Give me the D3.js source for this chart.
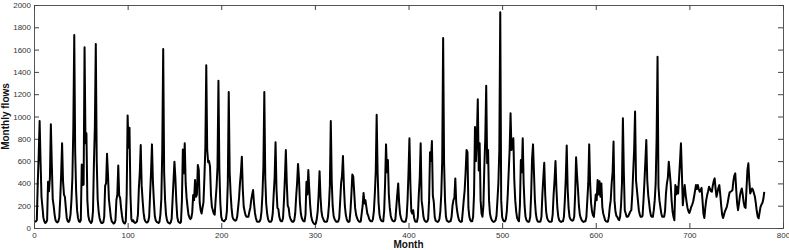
<!DOCTYPE html>
<html>
<head>
<meta charset="utf-8">
<script src="https://cdn.jsdelivr.net/npm/d3@7"></script>
<style>
  body { margin: 0; background: #fff; }
  svg { display: block; font-family: "Liberation Sans", Arial, sans-serif; }
  .axis text { font-size: 8px; fill: #333; }
  .axis line { stroke: #444; }
  .title { font-size: 10px; font-weight: bold; fill: #111; }
</style>
</head>
<body>
<svg id="chart" width="789" height="250"></svg>
<script>
// monthly flows, one row per year (12 months each)
var flowRows = [
  [55, 60, 70, 400, 650, 960, 600, 280, 190, 95, 60, 45],
  [50, 70, 415, 330, 450, 930, 580, 260, 200, 120, 70, 55],
  [50, 60, 95, 260, 480, 760, 420, 300, 280, 180, 90, 60],
  [55, 70, 120, 250, 450, 900, 1730, 680, 330, 160, 90, 60],
  [55, 70, 570, 385, 390, 1620, 760, 850, 250, 110, 70, 55],
  [45, 60, 150, 580, 900, 1650, 600, 260, 150, 90, 60, 45],
  [45, 50, 100, 380, 400, 665, 480, 260, 180, 100, 60, 50],
  [40, 45, 70, 250, 300, 560, 290, 270, 180, 110, 60, 45],
  [40, 60, 300, 1010, 720, 900, 300, 80, 60, 70, 50, 45],
  [50, 60, 120, 355, 500, 745, 380, 250, 140, 80, 60, 50],
  [50, 60, 100, 300, 500, 750, 420, 250, 110, 70, 55, 50],
  [45, 55, 120, 260, 700, 1605, 500, 250, 120, 70, 50, 45],
  [40, 50, 80, 250, 420, 595, 450, 240, 100, 60, 50, 45],
  [55, 250, 705, 490, 760, 400, 270, 190, 120, 95, 80, 90],
  [140, 295, 250, 430, 280, 300, 565, 520, 225, 160, 130, 180],
  [230, 450, 715, 1460, 700, 590, 600, 550, 300, 190, 160, 130],
  [120, 250, 370, 550, 1320, 520, 225, 100, 70, 65, 60, 70],
  [80, 150, 400, 1220, 500, 310, 180, 100, 80, 70, 65, 70],
  [100, 180, 270, 400, 500, 640, 350, 190, 150, 115, 100, 100],
  [100, 145, 180, 250, 300, 340, 220, 135, 90, 60, 55, 55],
  [60, 80, 150, 300, 550, 1220, 450, 220, 130, 80, 60, 55],
  [55, 70, 130, 300, 450, 770, 350, 180, 170, 100, 70, 60],
  [60, 90, 250, 450, 700, 400, 200, 180, 110, 80, 65, 55],
  [55, 70, 130, 280, 400, 575, 450, 230, 130, 90, 70, 60],
  [60, 120, 415, 300, 520, 350, 200, 110, 70, 50, 40, 35],
  [40, 80, 150, 300, 510, 280, 150, 100, 80, 60, 55, 55],
  [60, 100, 200, 380, 960, 420, 200, 110, 80, 65, 55, 55],
  [60, 90, 235, 400, 470, 645, 380, 200, 120, 80, 60, 55],
  [60, 150, 300, 480, 460, 320, 180, 120, 90, 70, 60, 55],
  [60, 130, 200, 315, 220, 250, 190, 130, 110, 80, 65, 60],
  [60, 80, 150, 300, 500, 1015, 500, 230, 120, 80, 65, 60],
  [60, 150, 400, 750, 500, 610, 300, 180, 110, 80, 65, 60],
  [60, 80, 190, 300, 400, 225, 125, 90, 65, 60, 55, 55],
  [60, 100, 250, 500, 805, 400, 150, 130, 160, 90, 60, 55],
  [55, 100, 300, 450, 760, 250, 180, 100, 70, 60, 55, 60],
  [80, 250, 680, 600, 780, 290, 235, 100, 65, 60, 55, 60],
  [80, 150, 300, 600, 1705, 590, 250, 100, 65, 60, 55, 60],
  [60, 100, 200, 250, 270, 445, 220, 150, 100, 70, 60, 55],
  [60, 150, 250, 340, 500, 700, 680, 180, 100, 70, 60, 60],
  [100, 300, 905, 600, 800, 1155, 515, 760, 250, 130, 100, 200],
  [550, 800, 1275, 580, 700, 250, 130, 90, 70, 60, 55, 60],
  [70, 110, 250, 400, 700, 1935, 250, 100, 70, 60, 60, 80],
  [150, 300, 500, 700, 1030, 700, 790, 805, 430, 250, 150, 90],
  [70, 60, 200, 610, 500, 805, 400, 200, 100, 70, 60, 55],
  [60, 100, 300, 625, 750, 500, 250, 130, 80, 60, 55, 55],
  [60, 100, 300, 450, 585, 300, 150, 90, 70, 60, 55, 55],
  [60, 120, 300, 430, 600, 350, 180, 100, 70, 60, 55, 60],
  [60, 100, 250, 450, 740, 350, 180, 100, 80, 70, 65, 70],
  [100, 300, 635, 475, 350, 200, 120, 90, 70, 60, 55, 60],
  [60, 100, 250, 400, 750, 400, 225, 150, 115, 100, 200, 300],
  [250, 430, 300, 420, 280, 400, 190, 130, 100, 70, 60, 57],
  [57, 100, 190, 250, 400, 500, 775, 250, 150, 110, 100, 80],
  [70, 100, 200, 400, 985, 500, 160, 130, 100, 100, 110, 130],
  [150, 160, 300, 505, 700, 1045, 430, 340, 250, 160, 120, 100],
  [100, 110, 250, 415, 600, 790, 430, 300, 225, 150, 110, 100],
  [100, 160, 250, 400, 800, 1535, 370, 250, 190, 130, 100, 100],
  [100, 150, 310, 400, 450, 595, 500, 400, 250, 150, 100, 70],
  [385, 300, 370, 310, 450, 600, 760, 490, 205, 300, 385, 300],
  [235, 180, 150, 135, 160, 190, 210, 235, 280, 330, 385, 350],
  [385, 350, 325, 340, 360, 250, 130, 90, 180, 250, 295, 330],
  [370, 350, 330, 325, 380, 420, 445, 350, 280, 320, 360, 385],
  [300, 200, 120, 90, 120, 150, 170, 190, 230, 280, 320, 325],
  [330, 340, 420, 470, 490, 350, 220, 160, 220, 290, 330, 355],
  [300, 230, 190, 180, 350, 520, 580, 420, 310, 330, 355, 340],
  [310, 280, 220, 150, 100, 87, 140, 190, 210, 225, 260, 325]
];

var xTicks = [0, 100, 200, 300, 400, 500, 600, 700, 800];
var yTicks = [0, 200, 400, 600, 800, 1000, 1200, 1400, 1600, 1800, 2000];

var flows = [];
flowRows.forEach(function(row) {
  row.forEach(function(v) { flows.push(v); });
});
var series = flows.map(function(v, i) { return { month: i + 1, value: v }; });

var width = 789, height = 250;
var margin = { left: 34, right: 6, top: 5, bottom: 22 };
var innerW = width - margin.left - margin.right,
    innerH = height - margin.top - margin.bottom;

var svg = d3.select("#chart");
var g = svg.append("g").attr("transform", `translate(${margin.left},${margin.top})`);

var x = d3.scaleLinear().domain([0, 800]).range([0, innerW]);
var y = d3.scaleLinear().domain([0, 2000]).range([innerH, 0]);

// box
g.append("rect")
  .attr("width", innerW).attr("height", innerH)
  .attr("fill", "none").attr("stroke", "#555").attr("stroke-width", 1)
  .attr("shape-rendering", "crispEdges");

// ticks point inwards on all four sides (matlab style)
g.append("g").attr("class", "axis")
  .attr("transform", `translate(0,${innerH})`)
  .call(d3.axisBottom(x).tickValues(xTicks).tickSize(-5).tickPadding(4).tickFormat(d3.format("d")))
  .call(function(s) { s.select(".domain").remove(); });

g.append("g").attr("class", "axis")
  .call(d3.axisTop(x).tickValues(xTicks).tickSize(-5).tickFormat(""))
  .call(function(s) { s.select(".domain").remove(); });

g.append("g").attr("class", "axis")
  .call(d3.axisLeft(y).tickValues(yTicks).tickSize(-5).tickPadding(3).tickFormat(d3.format("d")))
  .call(function(s) { s.select(".domain").remove(); });

g.append("g").attr("class", "axis")
  .attr("transform", `translate(${innerW},0)`)
  .call(d3.axisRight(y).tickValues(yTicks).tickSize(-5).tickFormat(""))
  .call(function(s) { s.select(".domain").remove(); });

var line = d3.line()
  .x(function(d) { return x(d.month); })
  .y(function(d) { return y(d.value); });

g.append("path")
  .datum(series)
  .attr("d", line)
  .attr("fill", "none")
  .attr("stroke", "#000")
  .attr("stroke-width", 2)
  .attr("stroke-linejoin", "round");

svg.append("text").attr("class", "title")
  .attr("x", margin.left + innerW / 2).attr("y", 248)
  .attr("text-anchor", "middle")
  .text("Month");

svg.append("text").attr("class", "title")
  .attr("transform", `translate(9,${margin.top + innerH / 2}) rotate(-90)`)
  .attr("text-anchor", "middle")
  .text("Monthly flows");
</script>
</body>
</html>
